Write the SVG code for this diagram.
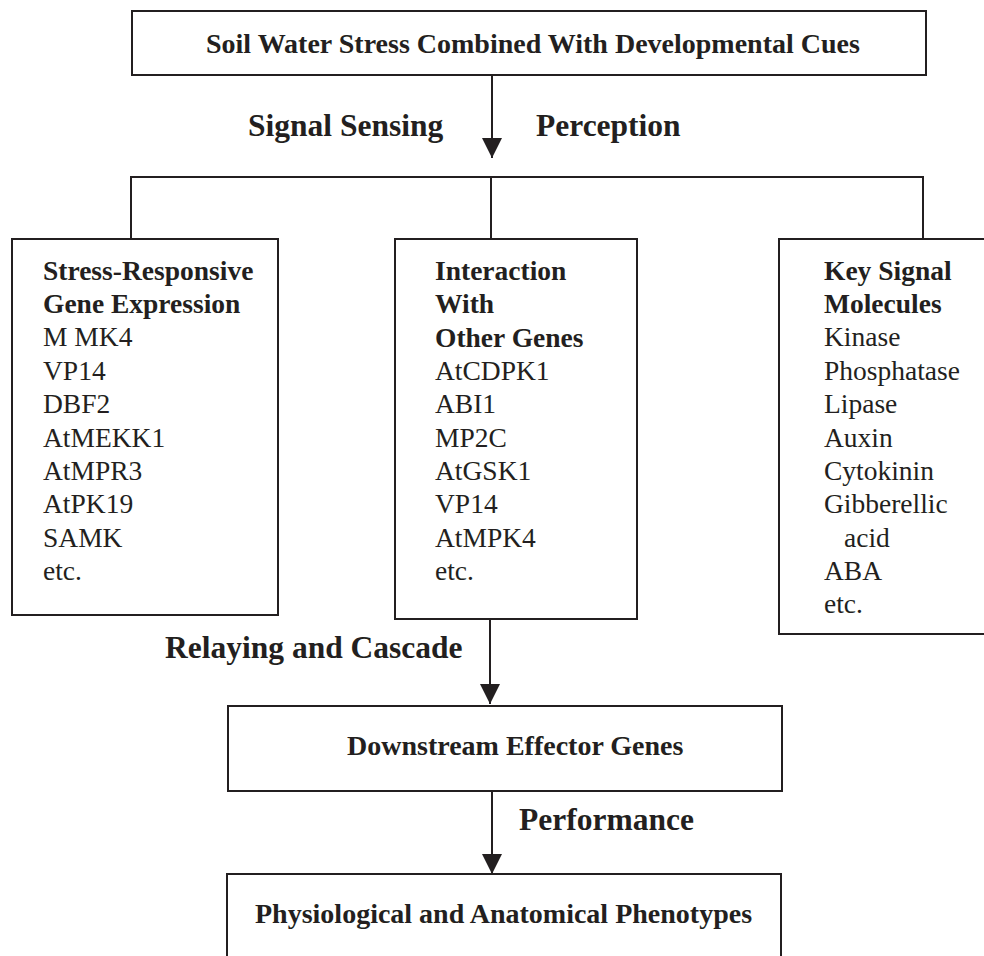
<svg xmlns="http://www.w3.org/2000/svg" width="984" height="956" viewBox="0 0 984 956">
<style>
.box{fill:#fff;stroke:#231f20;stroke-width:2}
.ln{fill:none;stroke:#231f20;stroke-width:2}
text{font-family:"Liberation Serif","Times New Roman",serif;fill:#231f20}
.b{font-weight:bold}
.t{font-size:28px}
.lbl{font-size:31.5px;font-weight:bold}
.it{font-size:27.5px}
</style>
<defs>
<marker id="ah" markerUnits="userSpaceOnUse" markerWidth="22" markerHeight="20" refX="20" refY="10" orient="auto">
<path d="M0,0 L20,10 L0,20 Z" fill="#231f20"/>
</marker>
</defs>
<g id="connectors">
<line class="ln" x1="492" y1="75" x2="492" y2="158" marker-end="url(#ah)"/>
<polyline class="ln" points="131,239 131,177 923,177 923,239"/>
<line class="ln" x1="491" y1="177" x2="491" y2="239"/>
<line class="ln" x1="490" y1="619" x2="490" y2="704" marker-end="url(#ah)"/>
<line class="ln" x1="492" y1="791" x2="492" y2="874" marker-end="url(#ah)"/>
<text class="lbl" x="248" y="136">Signal Sensing</text>
<text class="lbl" x="536" y="136">Perception</text>
<text class="lbl" x="165" y="658">Relaying and Cascade</text>
<text class="lbl" x="519" y="830">Performance</text>
</g>
<g id="top">
<rect class="box" x="132" y="11" width="794" height="64"/>
<text class="t b" x="206" y="53">Soil Water Stress Combined With Developmental Cues</text>
</g>
<g id="stress">
<rect class="box" x="12" y="239" width="266" height="376"/>
<text class="it" x="43">
<tspan class="b" x="43" y="280">Stress-Responsive</tspan>
<tspan class="b" x="43" y="313">Gene Expression</tspan>
<tspan x="43" y="346">M MK4</tspan>
<tspan x="43" y="380">VP14</tspan>
<tspan x="43" y="413">DBF2</tspan>
<tspan x="43" y="447">AtMEKK1</tspan>
<tspan x="43" y="480">AtMPR3</tspan>
<tspan x="43" y="513">AtPK19</tspan>
<tspan x="43" y="547">SAMK</tspan>
<tspan x="43" y="580">etc.</tspan>
</text>
</g>
<g id="interaction">
<rect class="box" x="395" y="239" width="242" height="380"/>
<text class="it" x="435">
<tspan class="b" x="435" y="280">Interaction</tspan>
<tspan class="b" x="435" y="313">With</tspan>
<tspan class="b" x="435" y="347">Other Genes</tspan>
<tspan x="435" y="380">AtCDPK1</tspan>
<tspan x="435" y="413">ABI1</tspan>
<tspan x="435" y="447">MP2C</tspan>
<tspan x="435" y="480">AtGSK1</tspan>
<tspan x="435" y="513">VP14</tspan>
<tspan x="435" y="547">AtMPK4</tspan>
<tspan x="435" y="580">etc.</tspan>
</text>
</g>
<g id="molecules">
<rect class="box" x="779" y="239" width="220" height="395"/>
<text class="it" x="824">
<tspan class="b" x="824" y="280">Key Signal</tspan>
<tspan class="b" x="824" y="313">Molecules</tspan>
<tspan x="824" y="346">Kinase</tspan>
<tspan x="824" y="380">Phosphatase</tspan>
<tspan x="824" y="413">Lipase</tspan>
<tspan x="824" y="447">Auxin</tspan>
<tspan x="824" y="480">Cytokinin</tspan>
<tspan x="824" y="513">Gibberellic</tspan>
<tspan x="844" y="547">acid</tspan>
<tspan x="824" y="580">ABA</tspan>
<tspan x="824" y="613">etc.</tspan>
</text>
</g>
<g id="downstream">
<rect class="box" x="228" y="706" width="554" height="85"/>
<text class="t b" x="347" y="755">Downstream Effector Genes</text>
</g>
<g id="phenotypes">
<rect class="box" x="227" y="874" width="554" height="100"/>
<text class="t b" x="255" y="923">Physiological and Anatomical Phenotypes</text>
</g>
</svg>
